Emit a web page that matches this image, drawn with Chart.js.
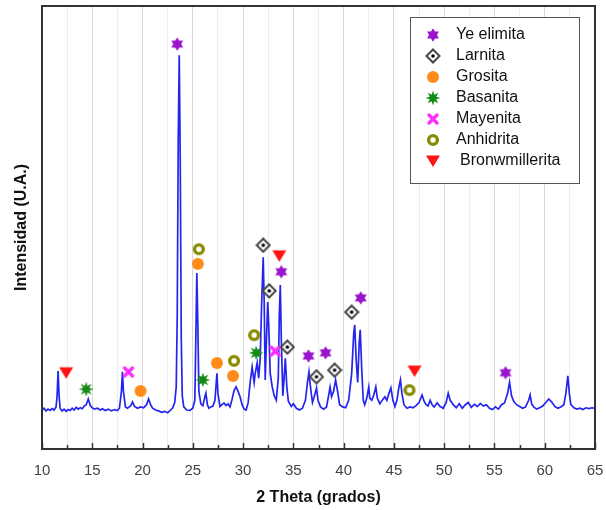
<!DOCTYPE html>
<html>
<head>
<meta charset="utf-8">
<script src="https://cdn.jsdelivr.net/npm/chart.js@4/dist/chart.umd.min.js"></script>
<style>
    body { margin: 0; background: #fff; }
    #xrd { display: block; }
</style>
</head>
<body>
<canvas id="xrd" width="606" height="510"></canvas>
<script>
(function () {

    "use strict";

    // difractograma (2 theta, intensidad en U.A.)
    let theta = [
        10.0, 10.2, 10.4, 10.6, 10.8, 11.0, 11.2, 11.4, 11.5, 11.6, 11.7, 11.8, 12.0, 12.2, 12.4, 12.6, 12.8,
        13.0, 13.2, 13.4, 13.6, 13.8, 14.0, 14.2, 14.4, 14.6, 14.8, 15.0, 15.2, 15.5, 15.8, 16.0, 16.3, 16.6,
        16.9, 17.2, 17.5, 17.7, 17.9, 18.0, 18.1, 18.3, 18.5, 18.8, 19.0, 19.2, 19.5, 19.8, 20.1, 20.4, 20.6,
        20.8, 21.0, 21.3, 21.6, 21.9, 22.2, 22.5, 22.8, 23.0, 23.2, 23.35, 23.45, 23.55, 23.65, 23.75, 23.85,
        23.95, 24.1, 24.4, 24.7, 25.0, 25.2, 25.3, 25.4, 25.5, 25.6, 25.8, 26.0, 26.2, 26.3, 26.45, 26.6, 26.8,
        27.0, 27.2, 27.4, 27.5, 27.7, 27.9, 28.1, 28.3, 28.5, 28.7, 28.9, 29.1, 29.3, 29.5, 29.7, 29.9, 30.1,
        30.3, 30.5, 30.7, 30.9, 31.1, 31.2, 31.4, 31.55, 31.7, 31.85, 32.0, 32.1, 32.2, 32.3, 32.45, 32.55,
        32.7, 32.9, 33.1, 33.3, 33.5, 33.6, 33.7, 33.8, 33.95, 34.05, 34.2, 34.35, 34.5, 34.8, 35.0, 35.3,
        35.6, 35.9, 36.2, 36.4, 36.55, 36.7, 36.9, 37.1, 37.3, 37.45, 37.7, 38.0, 38.3, 38.5, 38.65, 38.8,
        39.0, 39.2, 39.4, 39.6, 39.9, 40.2, 40.5, 40.8, 41.0, 41.1, 41.25, 41.4, 41.55, 41.65, 41.8, 41.95,
        42.1, 42.3, 42.5, 42.6, 42.8, 43.0, 43.2, 43.35, 43.6, 43.9, 44.1, 44.3, 44.5, 44.7, 44.9, 45.1, 45.3,
        45.5, 45.65, 45.8, 46.0, 46.3, 46.6, 46.9, 47.2, 47.5, 47.8, 48.0, 48.2, 48.4, 48.6, 48.8, 49.0, 49.3,
        49.6, 49.9, 50.2, 50.4, 50.6, 50.9, 51.2, 51.5, 51.8, 52.1, 52.4, 52.7, 53.0, 53.3, 53.6, 53.9, 54.2,
        54.5, 54.8, 55.1, 55.4, 55.7, 56.0, 56.3, 56.5, 56.7, 56.9, 57.2, 57.5, 57.8, 58.1, 58.4, 58.55, 58.7,
        58.9, 59.2, 59.5, 59.8, 60.1, 60.4, 60.7, 61.0, 61.3, 61.6, 61.9, 62.1, 62.3, 62.45, 62.6, 62.9, 63.2,
        63.5, 63.8, 64.1, 64.4, 64.7, 65.0
    ];
    let intensidad = [
        88, 92, 86, 90, 87, 91, 88, 95, 120, 176, 120, 92, 86, 90, 85, 89, 87,
        92, 88, 94, 90, 93, 91, 97, 100, 113, 98, 93, 90, 92, 88, 91, 87, 90,
        86, 89, 87, 92, 130, 174, 130, 95, 92, 97, 106, 96, 92, 95, 93, 100, 113,
        100, 92, 88, 86, 83, 85, 82, 88, 93, 105, 140, 300, 700, 889, 650, 250,
        120, 95, 88, 87, 92, 110, 250, 397, 280, 130, 102, 98, 118, 126, 100, 92, 95,
        97, 110, 171, 125, 96, 100, 104, 98, 102, 95, 112, 132, 140, 130, 118, 100, 90,
        88, 104, 150, 185, 150, 170, 194, 160, 205, 330, 433, 330, 156, 230, 332, 280,
        170, 140, 120, 110, 160, 300, 370, 250, 120, 150, 205, 140, 108, 96, 102, 92,
        88, 92, 110, 150, 174, 140, 105, 120, 138, 110, 95, 90, 95, 120, 140, 118,
        130, 156, 130, 100, 95, 93, 110, 170, 260, 280, 200, 150, 240, 269, 180, 110,
        100, 115, 140, 115, 110, 122, 140, 115, 102, 112, 118, 110, 125, 138, 110, 96, 110,
        140, 156, 125, 100, 92, 95, 93, 98, 105, 122, 108, 100, 97, 110, 100, 95, 104,
        96, 92, 105, 126, 110, 100, 93, 102, 92, 100, 105, 94, 101, 96, 103, 97, 100,
        92, 89, 95, 90, 100, 104, 125, 151, 120, 108, 100, 96, 92, 95, 110, 122, 102,
        95, 90, 93, 97, 105, 113, 106, 96, 92, 95, 100, 125, 165, 125, 100, 93, 90,
        92, 89, 93, 91, 93, 92
    ];

    // fases identificadas
    let yeX = [23.45, 33.8, 36.5, 38.2, 41.7, 56.1];
    let yeY = [914, 400, 210, 217, 341, 172];
    let larX = [32.0, 32.6, 34.4, 37.3, 39.1, 40.8];
    let larY = [460, 357, 230, 163, 178, 309];
    let groX = [19.8, 25.5, 27.4, 29.0];
    let groY = [131, 418, 194, 165];
    let basX = [14.4, 26.0, 31.3];
    let basY = [135, 156, 217];
    let mayX = [18.6, 33.2];
    let mayY = [174, 221];
    let anhX = [25.6, 29.1, 31.1, 46.55];
    let anhY = [451, 199, 257, 133];
    let broX = [12.4, 33.6, 47.05];
    let broY = [172, 436, 176];

    let xTicks = [10, 15, 20, 25, 30, 35, 40, 45, 50, 55, 60, 65];

    function pairs(xs, ys) {
        let out = [];
        for (let i in xs) {
            out.push({x: xs[i], y: ys[i]});
        }
        return out;
    }

    function marker(w, h, paint) {
        let c = document.createElement('canvas');
        c.width = w;
        c.height = h;
        let g = c.getContext('2d');
        paint(g, w / 2, h / 2);
        return c;
    }

    function star(g, cx, cy, n, ro, ri) {
        g.beginPath();
        for (let i = 0; i < n * 2; i++) {
            let r = i % 2 === 0 ? ro : ri;
            let a = -Math.PI / 2 + i * Math.PI / n;
            let px = cx + r * Math.cos(a);
            let py = cy + r * Math.sin(a);
            if (i === 0) {
                g.moveTo(px, py);
            } else {
                g.lineTo(px, py);
            }
        }
        g.closePath();
    }

    let mYe = marker(16, 16, function (g, cx, cy) {
        g.fillStyle = '#9a14cc';
        star(g, cx, cy, 6, 6.8, 4);
        g.fill();
    });
    let mLar = marker(16, 16, function (g, cx, cy) {
        g.beginPath();
        g.moveTo(cx, cy - 6.5);
        g.lineTo(cx + 6.5, cy);
        g.lineTo(cx, cy + 6.5);
        g.lineTo(cx - 6.5, cy);
        g.closePath();
        g.fillStyle = '#ffffff';
        g.fill();
        g.lineWidth = 2;
        g.strokeStyle = '#444444';
        g.stroke();
        g.beginPath();
        g.arc(cx, cy, 1.8, 0, Math.PI * 2);
        g.fillStyle = '#000000';
        g.fill();
    });
    let mGro = marker(14, 14, function (g, cx, cy) {
        g.beginPath();
        g.arc(cx, cy, 6, 0, Math.PI * 2);
        g.fillStyle = '#ff8c1a';
        g.fill();
    });
    let mBas = marker(18, 18, function (g, cx, cy) {
        g.fillStyle = '#138a13';
        star(g, cx, cy, 8, 7.5, 3.4);
        g.fill();
    });
    let mMay = marker(14, 14, function (g, cx, cy) {
        g.strokeStyle = '#ff2cff';
        g.lineWidth = 3.4;
        g.lineCap = 'round';
        g.beginPath();
        g.moveTo(cx - 4, cy - 4);
        g.lineTo(cx + 4, cy + 4);
        g.moveTo(cx + 4, cy - 4);
        g.lineTo(cx - 4, cy + 4);
        g.stroke();
    });
    let mAnh = marker(14, 14, function (g, cx, cy) {
        g.beginPath();
        g.arc(cx, cy, 4.4, 0, Math.PI * 2);
        g.fillStyle = '#ffffff';
        g.fill();
        g.lineWidth = 3.4;
        g.strokeStyle = '#8a8a00';
        g.stroke();
    });
    let mBro = marker(16, 14, function (g, cx, cy) {
        g.beginPath();
        g.moveTo(cx - 7, cy - 5.5);
        g.lineTo(cx + 7, cy - 5.5);
        g.lineTo(cx, cy + 6);
        g.closePath();
        g.fillStyle = '#ff1414';
        g.fill();
    });

    let phases = [
        {label: 'Ye elimita', xs: yeX, ys: yeY, style: mYe},
        {label: 'Larnita', xs: larX, ys: larY, style: mLar},
        {label: 'Grosita', xs: groX, ys: groY, style: mGro},
        {label: 'Basanita', xs: basX, ys: basY, style: mBas},
        {label: 'Mayenita', xs: mayX, ys: mayY, style: mMay},
        {label: 'Anhidrita', xs: anhX, ys: anhY, style: mAnh},
        {label: 'Bronwmillerita', xs: broX, ys: broY, style: mBro},
    ];

    let datasets = [];
    for (let p of phases) {
        datasets.push({
            label: p.label,
            data: pairs(p.xs, p.ys),
            pointStyle: p.style,
            pointRadius: 6,
            showLine: false,
            order: 0,
        });
    }
    datasets.push({
        label: 'DRX',
        data: pairs(theta, intensidad),
        showLine: true,
        borderColor: '#2424f0',
        borderWidth: 1.7,
        pointRadius: 0,
        tension: 0,
        order: 1,
    });

    // marco, marcas interiores y leyenda
    let decorations = {
        id: 'decorations',
        afterDraw(chart) {
            let ctx = chart.ctx;
            let area = chart.chartArea;
            let xs = chart.scales.x;

            ctx.save();
            ctx.strokeStyle = '#333333';
            ctx.lineWidth = 1.5;
            for (let v = 10; v <= 65; v += 2.5) {
                let px = Math.round(xs.getPixelForValue(v)) + 0.5;
                let len = v % 5 === 0 ? 6 : 4;
                ctx.beginPath();
                ctx.moveTo(px, area.bottom);
                ctx.lineTo(px, area.bottom - len);
                ctx.stroke();
            }
            ctx.lineWidth = 2;
            ctx.strokeRect(area.left, area.top, area.right - area.left, area.bottom - area.top);

            // leyenda
            let bx = 410, by = 17, bw = 169, bh = 166;
            ctx.fillStyle = '#ffffff';
            ctx.fillRect(bx, by, bw, bh);
            ctx.lineWidth = 1;
            ctx.strokeStyle = '#555555';
            ctx.strokeRect(bx + 0.5, by + 0.5, bw, bh);
            ctx.font = '16px "Liberation Sans", Arial, sans-serif';
            ctx.fillStyle = '#111111';
            ctx.textBaseline = 'middle';
            for (let i in phases) {
                let p = phases[i];
                let y = 35 + i * 21;
                ctx.drawImage(p.style, 433 - p.style.width / 2, y - p.style.height / 2);
                let tx = p.label === 'Bronwmillerita' ? 460 : 456;
                ctx.fillText(p.label, tx, y);
            }
            ctx.restore();
        }
    };

    new Chart(document.getElementById('xrd'), {
        type: 'scatter',
        data: {datasets: datasets},
        options: {
            responsive: false,
            animation: false,
            devicePixelRatio: 1,
            layout: {
                autoPadding: false,
                padding: {left: 0, right: 11, top: 6, bottom: 0},
            },
            plugins: {
                legend: {display: false},
                tooltip: {enabled: false},
            },
            scales: {
                x: {
                    type: 'linear',
                    min: 10,
                    max: 65,
                    afterBuildTicks(scale) {
                        let ticks = [];
                        for (let v = 10; v <= 65; v += 2.5) {
                            ticks.push({value: v});
                        }
                        scale.ticks = ticks;
                    },
                    afterFit(scale) {
                        scale.height = 61;
                        scale.paddingLeft = 0;
                        scale.paddingRight = 0;
                    },
                    border: {display: false},
                    grid: {
                        drawTicks: false,
                        color: function (c) {
                            return c.tick && c.tick.value % 5 === 0 ? '#d8d8d8' : '#ededed';
                        },
                    },
                    ticks: {
                        autoSkip: false,
                        maxRotation: 0,
                        padding: 13,
                        color: '#444444',
                        font: {family: '"Liberation Sans", Arial, sans-serif', size: 15},
                        callback: function (v) {
                            return xTicks.indexOf(v) >= 0 ? String(v) : '';
                        },
                    },
                    title: {
                        display: true,
                        text: '2 Theta (grados)',
                        color: '#111111',
                        padding: {top: 0, bottom: 3},
                        font: {family: '"Liberation Sans", Arial, sans-serif', size: 16, weight: 'bold'},
                    },
                },
                y: {
                    min: 0,
                    max: 1000,
                    afterFit(scale) {
                        scale.width = 42;
                    },
                    border: {display: false},
                    grid: {display: false},
                    ticks: {display: false},
                    title: {
                        display: true,
                        text: 'Intensidad (U.A.)',
                        color: '#111111',
                        padding: {top: 12, bottom: 0},
                        font: {family: '"Liberation Sans", Arial, sans-serif', size: 16, weight: 'bold'},
                    },
                },
            },
        },
        plugins: [decorations],
    });

})();
</script>
</body>
</html>
